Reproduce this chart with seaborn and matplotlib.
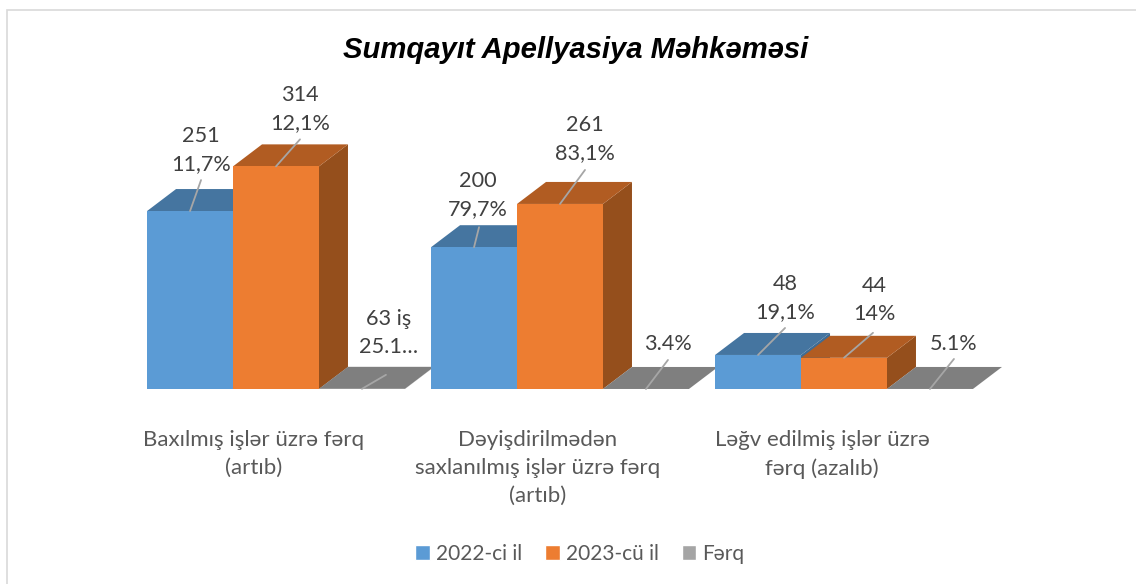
import matplotlib
matplotlib.use("Agg")
import matplotlib.pyplot as plt
from matplotlib.patches import Polygon, Rectangle
from matplotlib.transforms import ScaledTranslation
import numpy as np
import pandas as pd
import seaborn as sns

# ===========================
# 0. Data
# ===========================
categories = [
    "Baxılmış işlər üzrə fərq\n(artıb)",
    "Dəyişdirilmədən\nsaxlanılmış işlər üzrə fərq\n(artıb)",
    "Ləğv edilmiş işlər üzrə\nfərq (azalıb)",
]
series_names = ["2022-ci il", "2023-cü il", "Fərq"]
values_2022 = [251, 200, 48]
values_2023 = [314, 261, 44]
values_diff = [0.251, 0.034, 0.051]
labels_2022 = ["251\n11,7%", "200\n79,7%", "48\n19,1%"]
labels_2023 = ["314\n12,1%", "261\n83,1%", "44\n14%"]
labels_diff = ["63 iş\n25.1…", "3.4%", "5.1%"]

df = pd.DataFrame({
    "category": categories * 3,
    "series": np.repeat(series_names, 3),
    "value": values_2022 + values_2023 + values_diff,
})

# ===========================
# 1. Style
# ===========================
W, H = 1136, 584
colors = ["#5B9BD5", "#ED7D31", "#A5A5A5"]
top_colors = ["#4575A0", "#B15C22", "#7F7F7F"]
side_colors = ["#3F6C94", "#954F1C", "#7F7F7F"]
depth_x, depth_y = 29, 22  # px

# label centre offset and leader end offset from top of each bar, px (x right, y up)
text_off = [(11, 61), (4, 52), (27, 57), (24, 57), (25, 65), (30, 58), (27, 56), (22, 45), (24, 45)]
line_off = [(11, 31), (5, 20), (27, 27), (24, 27), (25, 34), (29, 25), (24, 14), (22, 29), (24, 30)]

sns.set_theme(style="white")
plt.rcParams["font.family"] = ["Lato", "Noto Sans", "DejaVu Sans"]

fig = plt.figure(figsize=(W / 100, H / 100), dpi=100)
ax = fig.add_axes([100 / W, 1 - 389 / H, 936 / W, 309 / H])

# ===========================
# 2. Bars
# ===========================
sns.barplot(data=df, x="category", y="value", hue="series", hue_order=series_names,
            palette=colors, saturation=1, width=0.908, gap=0, ax=ax, legend=True)
ax.set_xlim((100 - 276) / 284, (1036 - 276) / 284)
ax.set_ylim(0, 309 / 0.709)
ax.set_xlabel("")
ax.set_ylabel("")
ax.set_yticks([])
sns.despine(ax=ax, left=True, bottom=True)

bars = sorted(ax.patches[:9], key=lambda b: b.get_x())
order_map = [b for b in ax.patches[:9]]
dx = depth_x / 284
dy = depth_y * (ax.get_ylim()[1] / 309)

for z, bar in enumerate(bars):
    i = order_map.index(bar) // 3
    x0, x1 = bar.get_x(), bar.get_x() + bar.get_width()
    top = bar.get_height()
    bar.set_zorder(3 + z * 3 + 2)
    bar.set_edgecolor("none")
    ax.add_patch(Polygon([(x0, top), (x0 + dx, top + dy), (x1 + dx, top + dy), (x1, top)],
                         facecolor=top_colors[i], edgecolor="none", zorder=3 + z * 3 + 1))
    ax.add_patch(Polygon([(x1, 0), (x1 + dx, dy), (x1 + dx, top + dy), (x1, top)],
                         facecolor=side_colors[i], edgecolor="none", zorder=3 + z * 3))

# ===========================
# 3. Data labels with leader lines
# ===========================
all_labels = labels_2022 + labels_2023 + labels_diff
for k, (bar, text) in enumerate(zip(order_map, all_labels)):
    xy = (bar.get_x() + bar.get_width() / 2, bar.get_height())
    ax.annotate("", xy=xy, xytext=line_off[k], textcoords="offset pixels", annotation_clip=False,
                arrowprops=dict(arrowstyle="-", color="#A6A6A6", lw=1.3, shrinkA=0, shrinkB=0),
                zorder=60)
    ax.annotate(text, xy=xy, xytext=text_off[k], textcoords="offset pixels", ha="center", va="center",
                fontsize=15.6, color="#404040", linespacing=1.5, annotation_clip=False, zorder=61)

# ===========================
# 4. Axis text, title, legend, frame
# ===========================
ax.tick_params(axis="x", length=0, pad=29.5, labelsize=16, labelcolor="#595959")
shift = ScaledTranslation(-22 / 100, 0, fig.dpi_scale_trans)
for lab in ax.get_xticklabels():
    lab.set_transform(lab.get_transform() + shift)
    lab.set_linespacing(1.5)

fig.text(576 / W, 1 - 50 / H, "Sumqayıt Apellyasiya Məhkəməsi", ha="center", va="center",
         fontsize=21.1, fontweight="bold", fontstyle="italic", family="Liberation Sans", color="black")

handles, names = ax.get_legend_handles_labels()
ax.get_legend().remove()
fig.legend(handles, names, ncol=3, loc="center", bbox_to_anchor=(580 / W, 1 - 554 / H), frameon=False,
           fontsize=15, labelcolor="#595959", handlelength=0.7, handleheight=0.7,
           handletextpad=0.29, columnspacing=1.1, borderpad=0)

fig.add_artist(Rectangle((7 / W, 1 - 600 / H), 1200 / W, 590 / H, transform=fig.transFigure,
                         facecolor="none", edgecolor="#D9D9D9", lw=1.2))

fig.savefig("out.png", dpi=100)
plt.close(fig)
